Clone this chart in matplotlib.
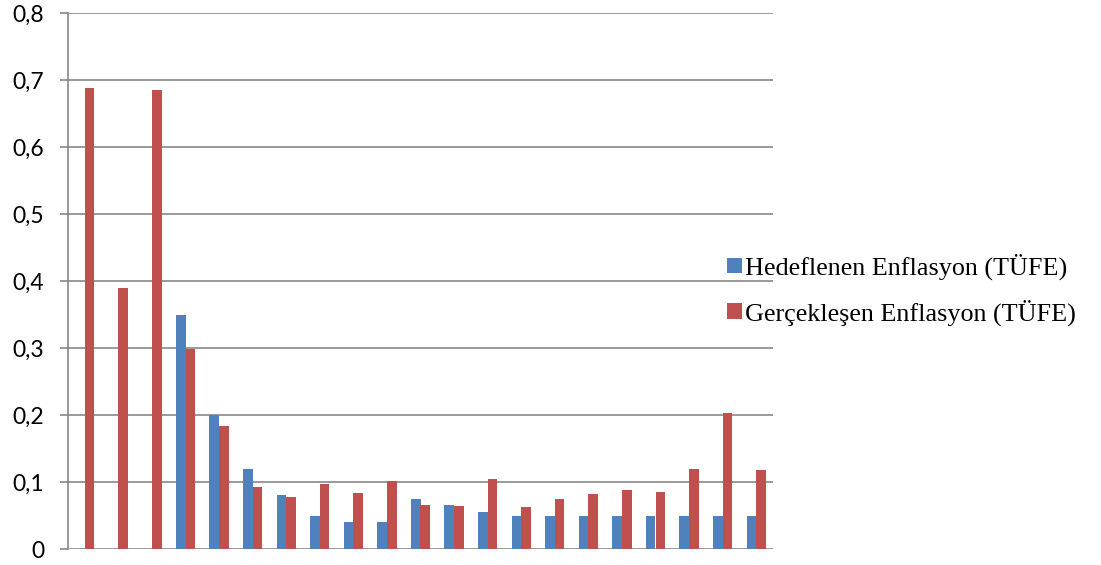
import matplotlib.pyplot as plt
import numpy as np
from matplotlib.ticker import FuncFormatter

# Yearly CPI inflation: target vs realised (21 periods, no category labels)
hedef = [0, 0, 0, 0.35, 0.20, 0.12, 0.08, 0.05, 0.04, 0.04, 0.075,
         0.065, 0.055, 0.05, 0.05, 0.05, 0.05, 0.05, 0.05, 0.05, 0.05]
gercek = [0.688, 0.39, 0.685, 0.298, 0.183, 0.093, 0.077, 0.097, 0.084, 0.101, 0.065,
          0.064, 0.104, 0.062, 0.074, 0.082, 0.088, 0.085, 0.119, 0.203, 0.118]
labels = ["Hedeflenen Enflasyon (TÜFE)", "Gerçekleşen Enflasyon (TÜFE)"]

BLUE = "#4F81BD"
RED = "#C0504D"
GRID = "#878787"


def main() -> None:
    fig = plt.figure(figsize=(11.01, 5.65), dpi=100)
    ax = fig.add_axes([68 / 1101, 16 / 565, 705 / 1101, 536 / 565])

    x = np.arange(len(gercek))
    w = 1 / 3.5
    b1 = ax.bar(x - w / 2, hedef, w, color=BLUE, zorder=3, label=labels[0])
    b2 = ax.bar(x + w / 2, gercek, w, color=RED, zorder=3, label=labels[1])

    ax.set_xlim(-0.5, len(gercek) - 0.5)
    ax.set_ylim(0, 0.8)
    ax.set_yticks(np.arange(0, 0.81, 0.1))
    ax.yaxis.set_major_formatter(
        FuncFormatter(lambda v, _: "0" if abs(v) < 1e-9 else f"{v:.1f}".replace(".", ","))
    )
    ax.set_xticks([])
    ax.grid(axis="y", color=GRID, lw=1.2, zorder=0)

    for side in ("top", "right", "bottom"):
        ax.spines[side].set_visible(False)
    ax.spines["left"].set_color(GRID)
    ax.spines["left"].set_linewidth(1.2)
    ax.tick_params(axis="y", length=6, width=1.2, color=GRID, pad=11,
                   labelsize=16.5, labelcolor="black")
    for lab in ax.get_yticklabels():
        lab.set_family("Lato")

    fig.legend(handles=[b1, b2], labels=labels, loc="center left",
               bbox_to_anchor=(727 / 1101, 0.487), frameon=False,
               prop={"family": "Liberation Serif", "size": 18.8},
               handlelength=0.56, handleheight=0.56, handletextpad=0.12,
               labelspacing=0.74, borderaxespad=0, borderpad=0)

    fig.savefig("out.png", dpi=100)


if __name__ == "__main__":
    main()
